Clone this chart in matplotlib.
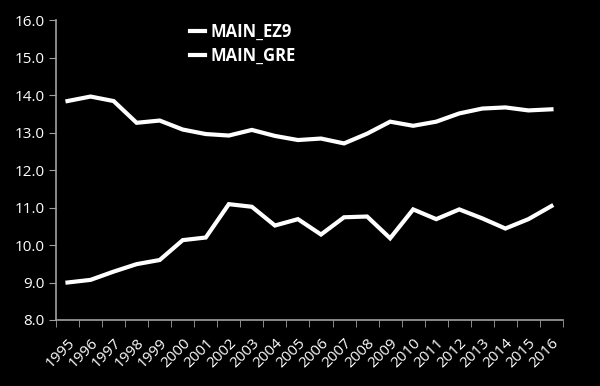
import matplotlib
matplotlib.use("Agg")
from matplotlib import pyplot as plt
import numpy as np

years = [str(y) for y in range(1995, 2017)]
main_ez9 = [13.84, 13.96, 13.84, 13.26, 13.32, 13.08, 12.96, 12.92, 13.07, 12.91, 12.8,
            12.84, 12.71, 12.97, 13.29, 13.18, 13.29, 13.51, 13.64, 13.67, 13.59, 13.62]
main_gre = [9.0, 9.07, 9.29, 9.49, 9.6, 10.13, 10.2, 11.09, 11.02, 10.52, 10.69,
            10.28, 10.74, 10.76, 10.18, 10.95, 10.69, 10.95, 10.71, 10.44, 10.69, 11.04]
y_ticks = [8.0, 9.0, 10.0, 11.0, 12.0, 13.0, 14.0, 15.0, 16.0]

plt.rcParams['font.family'] = ['Open Sans', 'DejaVu Sans']

fig = plt.figure(figsize=(6, 3.86), dpi=100, facecolor='black')
ax = fig.add_axes([0.0933, 0.171, 0.845, 0.777], facecolor='black')

x = np.arange(len(years))
ax.plot(x, main_ez9, color='white', lw=3, label='MAIN_EZ9', solid_joinstyle='miter')
ax.plot(x, main_gre, color='white', lw=3, label='MAIN_GRE', solid_joinstyle='miter')

ax.set_xlim(-0.5, len(years) - 0.5)
ax.set_ylim(8, 16)
ax.set_yticks(y_ticks)
ax.set_yticklabels(['%.1f' % v for v in y_ticks], color='white', fontsize=11)

ax.set_xticks(x)
ax.set_xticklabels(years, rotation=45, ha='right', rotation_mode='anchor', color='white', fontsize=11)
ax.tick_params(axis='x', which='major', length=0, pad=11)
ax.set_xticks(np.arange(len(years) + 1) - 0.5, minor=True)
ax.tick_params(axis='x', which='minor', length=5, color='#a0a0a0', direction='out')
ax.tick_params(axis='y', length=5, color='#a0a0a0', direction='out', pad=3)

for side in ['top', 'right']:
    ax.spines[side].set_visible(False)
for side in ['left', 'bottom']:
    ax.spines[side].set_color('#a0a0a0')
    ax.spines[side].set_linewidth(1.2)

leg = ax.legend(loc='upper left', bbox_to_anchor=(0.235, 1.04), frameon=False,
                handlelength=0.9, handletextpad=0.3, labelspacing=0.35,
                prop={'weight': 'bold', 'size': 12})
for t in leg.get_texts():
    t.set_color('white')

fig.savefig('out.png', dpi=100, facecolor='black')
